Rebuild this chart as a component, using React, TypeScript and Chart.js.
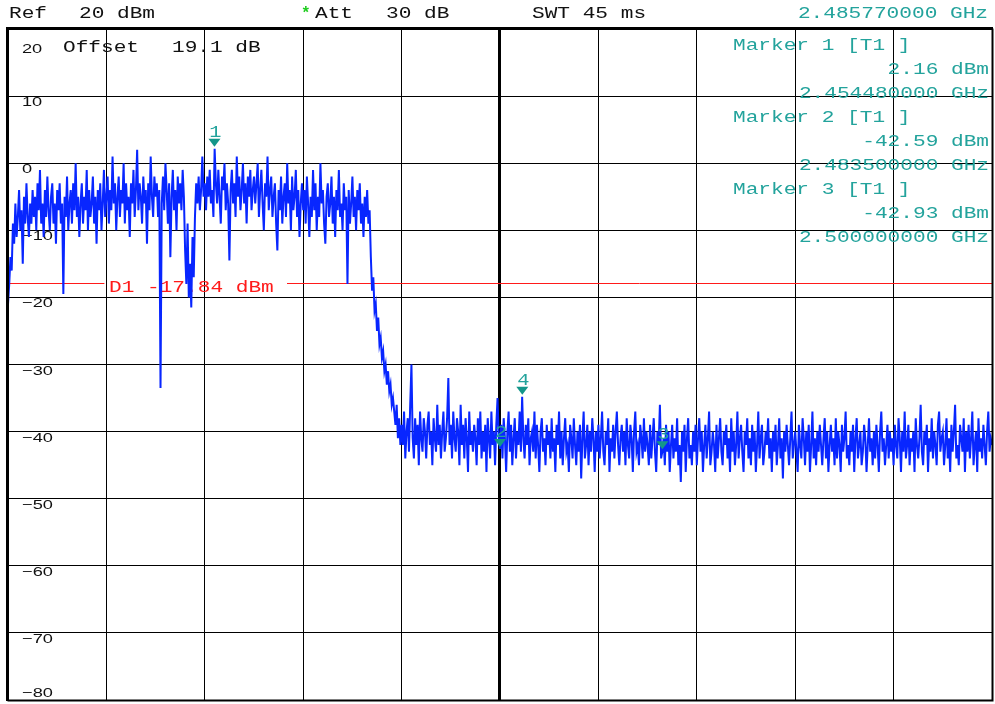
import React, { useEffect, useRef } from 'react';
import { Chart, registerables } from 'chart.js';

Chart.register(...registerables);

// ---------- data ----------
const F_START = 2.4335; // GHz (left edge)
const F_STOP = 2.5335; // GHz (right edge)
const F_STEP = 0.000125; // GHz per trace point
const F_CENTER = 2.4835;
const X_DIVS = [2.4335, 2.4435, 2.4535, 2.4635, 2.4735, 2.4835, 2.4935, 2.5035, 2.5135, 2.5235, 2.5335];
const Y_MIN = -80;
const Y_MAX = 20;
const Y_TICKS = [20, 10, 0, -10, -20, -30, -40, -50, -60, -70, -80];

const TRACE = [
  -21, -18, -14, -16, -9, -12, -6, -11, -8, -4, -10, -7, -15, -5, -9, -3, -8, -11, -6, -9,
  -4, -8, -5, -10, -3, -7, -1, -9, -6, -11, -4, -8, -2, -7, -10, -5, -3, -9, -6, -12,
  -4, -7, -3, -9, -6, -19.5, -5, -8, -2, -10, -6, -4, -9, -3, -7, 0, -8, -5, -11, -6,
  -3, -9, -5, -7, -1, -10, -4, -8, -6, -2, -9, -5, -12, -4, -7, -3, -10, -6, -1, -8,
  -5, -2, -9, -4, -7, 1, -6, -3, -10, -5, -2, -8, -4, -6, 0, -9, -3, -7, -5, -11,
  -3, -6, -1, -8, -4, 2, -7, -3, -5, -9, -2, -6, -4, -12, -3, -7, 1, -5, -8, -2,
  -5, -3, -8, -4, -33.5, -6, -2, -7, 0, -4, -9, -3, -14, -5, -1, -7, -4, -10, -2, -6,
  -3, -7, -1, -5, -13, -18, -9, -20, -15, -21.5, -11, -17, -8, -3, -6, -2, -7, -4, 1, -5,
  -3, -7, -2, -5, -1, -6, -4, -8, 2.16, -3, -6, -1, -5, -9, -2, -4, 0, -7, -3, -6,
  -14.5, -4, -1, -6, -3, -8, 1, -5, -2, -7, -4, 0, -6, -3, -9, -2, -5, -1, -7, -4,
  -2, -6, -3, 0, -8, -4, -1, -6, -10, -3, -5, 1, -7, -4, -2, -8, -5, -3, -9, -13,
  -4, -7, -2, -9, -5, -3, -8, 0, -6, -4, -10, -2, -7, -5, -1, -8, -4, -11, -6, -3,
  -7, -4, -9, -2, -6, -11, -5, -8, -1, -7, -3, -10, -5, -8, 0, -6, -4, -9, -12, -5,
  -3, -8, -6, -2, -9, -5, -11, -4, -7, -1, -8, -6, -10, -3, -7, -5, -18, -4, -9, -6,
  -2, -8, -5, -10, -4, -7, -3, -9, -6, -11, -5, -8, -4, -9, -7, -14, -19, -17, -22, -21,
  -25, -23, -27, -26, -29, -28, -31, -30, -33, -31, -34, -33, -36, -35, -37, -39, -36, -41, -38, -42,
  -39, -42, -37, -44, -40, -38, -43, -36, -30, -41, -44, -38, -42, -39, -45, -37, -41, -43, -38, -40,
  -44, -39, -37, -42, -40, -45, -38, -41, -43, -36, -42, -39, -44, -40, -37, -43, -41, -38, -32, -42,
  -39, -44, -37, -41, -43, -38, -40, -45, -36, -42, -39, -44, -38, -41, -46, -37, -42, -40, -43, -39,
  -41, -45, -38, -42, -37, -44, -40, -43, -39, -46, -38, -41, -44, -37, -42, -40, -45, -39, -35, -41,
  -42.59, -39, -44, -38, -41, -46, -40, -37, -43, -39, -45, -41, -38, -44, -40, -42, -37, -43, -34.8, -41,
  -44, -39, -42, -38, -45, -41, -40, -43, -37, -44, -39, -42, -46, -40, -38, -43, -41, -45, -39, -42,
  -40, -44, -38, -43, -41, -46, -39, -42, -37, -44, -40, -45, -41, -38, -43, -42, -46, -39, -41, -44,
  -38, -42, -45, -40, -43, -39, -47, -41, -37, -44, -42, -39, -45, -40, -43, -38, -41, -46, -40, -43,
  -39, -44, -41, -37, -43, -45, -40, -42, -38, -46, -41, -43, -39, -44, -40, -37, -42, -45, -41, -39,
  -43, -40, -45, -38, -42, -44, -39, -41, -46, -40, -37, -43, -42, -45, -39, -41, -44, -38, -43, -40,
  -42, -45, -39, -44, -41, -38, -43, -46, -40, -42, -36, -44, -42.93, -41, -45, -39, -43, -40, -46, -42,
  -39, -44, -41, -43, -38, -45, -42, -47.5, -40, -43, -39, -46, -41, -38, -44, -42, -45, -40, -43, -39,
  -45, -41, -38, -43, -40, -46, -42, -39, -44, -41, -37, -45, -43, -40, -42, -46, -39, -44, -41, -38,
  -43, -45, -40, -42, -39, -44, -41, -46, -38, -43, -40, -45, -42, -37, -44, -41, -39, -43, -46, -40,
  -42, -38, -44, -41, -45, -39, -43, -40, -46, -42, -37, -44, -41, -39, -45, -43, -40, -42, -38, -44,
  -41, -46, -40, -43, -39, -45, -42, -38, -44, -41, -47, -40, -43, -39, -42, -45, -41, -37, -44, -42,
  -40, -43, -46, -39, -42, -44, -38, -41, -45, -40, -43, -39, -46, -42, -37, -44, -41, -45, -40, -43,
  -39, -42, -45, -41, -38, -44, -40, -46, -42, -39, -43, -41, -45, -38, -44, -40, -42, -46, -39, -43,
  -41, -37, -44, -42, -45, -40, -43, -39, -46, -41, -38, -44, -42, -40, -45, -43, -39, -41, -46, -42,
  -38, -43, -41, -45, -40, -44, -39, -42, -46, -40, -37, -43, -41, -45, -42, -39, -44, -40, -43, -41,
  -45, -39, -42, -44, -38, -41, -46, -40, -43, -37, -44, -42, -39, -45, -41, -43, -40, -46, -38, -42,
  -44, -41, -36, -43, -45, -40, -42, -39, -46, -41, -43, -38, -44, -40, -42, -45, -39, -37, -43, -41,
  -40, -45, -42, -38, -44, -41, -46, -39, -43, -40, -36, -44, -42, -45, -39, -41, -43, -38, -46, -40,
  -43, -39, -44, -41, -37, -45, -42, -40, -46, -38, -43, -41, -44, -39, -42, -45, -40, -37, -43, -41,
  -42,
];

const MARKER_LABELS = ['1', '2', '3', '4'];
const MARKER_FREQS = [2.45448, 2.4835, 2.5, 2.48577];
const MARKER_LEVELS = [2.16, -42.59, -42.93, -34.8];

const D1_LEVEL = -17.84;
const D1_TEXT = 'D1 -17.84 dBm';

const MARKER_BLOCK = [
  'Marker 1 [T1 ]', '2.16 dBm', '2.454480000 GHz',
  'Marker 2 [T1 ]', '-42.59 dBm', '2.483500000 GHz',
  'Marker 3 [T1 ]', '-42.93 dBm', '2.500000000 GHz',
];

// ---------- styles ----------
const MONO = '"Liberation Mono", "DejaVu Sans Mono", monospace';
const SANS = '"Liberation Sans", Arial, sans-serif';
const TEAL = '#23a39c';
const MARK = '#14968a';
const BLUE = '#0826ff';
const RED = '#ff1a1a';
const SX = 1.32;

function txt(
  ctx: CanvasRenderingContext2D,
  s: string,
  x: number,
  y: number,
  color: string,
  font: string,
  sx: number,
  align: CanvasTextAlign = 'left'
) {
  ctx.save();
  ctx.translate(x, y);
  ctx.scale(sx, 1);
  ctx.font = font;
  ctx.fillStyle = color;
  ctx.textAlign = align;
  ctx.textBaseline = 'alphabetic';
  ctx.fillText(s, 0, 0);
  ctx.restore();
}

const overlay = {
  id: 'specOverlay',
  beforeDatasetsDraw(chart: any) {
    const ctx: CanvasRenderingContext2D = chart.ctx;
    const ys = chart.scales.y;
    const xs = chart.scales.x;
    const area = chart.chartArea;
    Y_TICKS.forEach((v) => {
      const py = ys.getPixelForValue(v);
      let base = py + 10;
      if (v === Y_MAX) base = py + 24;
      if (v === Y_MIN) base = py - 3;
      const label = v < 0 ? '\u2212' + Math.abs(v) : String(v);
      txt(ctx, label, 22, base, '#111', `13px ${SANS}`, 1.4);
    });
    txt(ctx, 'Offset', 63, 52, '#111', `16px ${MONO}`, SX);
    txt(ctx, '19.1 dB', 172, 52, '#111', `16px ${MONO}`, SX);
    const dy = Math.round(ys.getPixelForValue(D1_LEVEL)) + 0.5;
    ctx.save();
    ctx.strokeStyle = RED;
    ctx.lineWidth = 1;
    ctx.beginPath();
    ctx.moveTo(area.left, dy);
    ctx.lineTo(xs.getPixelForValue(X_DIVS[1]) - 2, dy);
    ctx.moveTo(287, dy);
    ctx.lineTo(area.right, dy);
    ctx.stroke();
    ctx.restore();
    txt(ctx, D1_TEXT, 109, dy + 8.5, RED, `16px ${MONO}`, SX);
  },
  afterDatasetsDraw(chart: any) {
    const ctx: CanvasRenderingContext2D = chart.ctx;
    const ys = chart.scales.y;
    const xs = chart.scales.x;
    const area = chart.chartArea;
    MARKER_FREQS.forEach((f, i) => {
      const px = xs.getPixelForValue(f);
      const tip = ys.getPixelForValue(MARKER_LEVELS[i]) - 2;
      ctx.save();
      ctx.fillStyle = MARK;
      ctx.beginPath();
      ctx.moveTo(px - 6, tip - 8);
      ctx.lineTo(px + 6, tip - 8);
      ctx.lineTo(px, tip);
      ctx.closePath();
      ctx.fill();
      ctx.restore();
      txt(ctx, MARKER_LABELS[i], px + 1, tip - 10, TEAL, `17px ${MONO}`, 1.2, 'center');
    });
    ctx.save();
    ctx.beginPath();
    ctx.rect(area.left, area.top, area.right - area.left - 1, area.bottom - area.top);
    ctx.clip();
    MARKER_BLOCK.forEach((s, i) => {
      const base = 50 + i * 24;
      if (i % 3 === 0) txt(ctx, s, 733, base, TEAL, `16px ${MONO}`, SX);
      else txt(ctx, s, 989, base, TEAL, `16px ${MONO}`, SX, 'right');
    });
    ctx.restore();
    txt(ctx, 'Ref', 9, 18, '#111', `16px ${MONO}`, SX);
    txt(ctx, '20 dBm', 79, 18, '#111', `16px ${MONO}`, SX);
    txt(ctx, '*', 301, 18, '#1fcc1f', `bold 16px ${MONO}`, 1.0);
    txt(ctx, 'Att', 315, 18, '#111', `16px ${MONO}`, SX);
    txt(ctx, '30 dB', 386, 18, '#111', `16px ${MONO}`, SX);
    txt(ctx, 'SWT 45 ms', 532, 18, '#111', `16px ${MONO}`, SX);
    txt(ctx, '2.485770000 GHz', 988, 18, TEAL, `16px ${MONO}`, SX, 'right');
    ctx.save();
    ctx.strokeStyle = '#000';
    ctx.lineWidth = 3;
    ctx.beginPath();
    ctx.moveTo(area.left - 0.5, area.bottom + 1);
    ctx.lineTo(area.left - 0.5, area.top - 0.5);
    ctx.lineTo(area.right + 1, area.top - 0.5);
    ctx.stroke();
    ctx.lineWidth = 2;
    ctx.beginPath();
    ctx.moveTo(area.right + 0.5, area.top - 0.5);
    ctx.lineTo(area.right + 0.5, area.bottom + 0.5);
    ctx.lineTo(area.left - 0.5, area.bottom + 0.5);
    ctx.stroke();
    ctx.restore();
  },
};

export default function App() {
  const ref = useRef<HTMLCanvasElement>(null);
  useEffect(() => {
    const canvas = ref.current;
    if (!canvas) return;
    const points = TRACE.map((v, i) => ({ x: F_START + i * F_STEP, y: v }));
    const chart = new Chart(canvas, {
      type: 'line',
      data: {
        datasets: [
          {
            data: points,
            borderColor: BLUE,
            borderWidth: 2,
            pointRadius: 0,
            tension: 0,
            fill: false,
          },
        ],
      },
      options: {
        responsive: false,
        maintainAspectRatio: false,
        animation: false,
        devicePixelRatio: 1,
        layout: { padding: { left: 8, top: 29, right: 3, bottom: 4 } },
        plugins: { legend: { display: false }, tooltip: { enabled: false } },
        scales: {
          x: {
            type: 'linear',
            min: F_START,
            max: F_STOP,
            afterBuildTicks: (s: any) => {
              s.ticks = X_DIVS.map((v) => ({ value: v }));
            },
            ticks: { display: false },
            border: { display: false },
            grid: {
              color: '#000',
              drawTicks: false,
              lineWidth: (c: any) => (c.tick && Math.abs(c.tick.value - F_CENTER) < 1e-7 ? 3 : 1),
            },
          },
          y: {
            type: 'linear',
            min: Y_MIN,
            max: Y_MAX,
            afterBuildTicks: (s: any) => {
              s.ticks = Y_TICKS.map((v) => ({ value: v }));
            },
            ticks: { display: false },
            border: { display: false },
            grid: { color: '#000', drawTicks: false, lineWidth: 1 },
          },
        },
      },
      plugins: [overlay],
    });
    return () => chart.destroy();
  }, []);
  return (
    <div style={{ position: 'fixed', left: 0, top: 0, width: 995, height: 704, background: '#fff' }}>
      <canvas ref={ref} width={995} height={704} style={{ display: 'block', width: 995, height: 704 }} />
    </div>
  );
}
